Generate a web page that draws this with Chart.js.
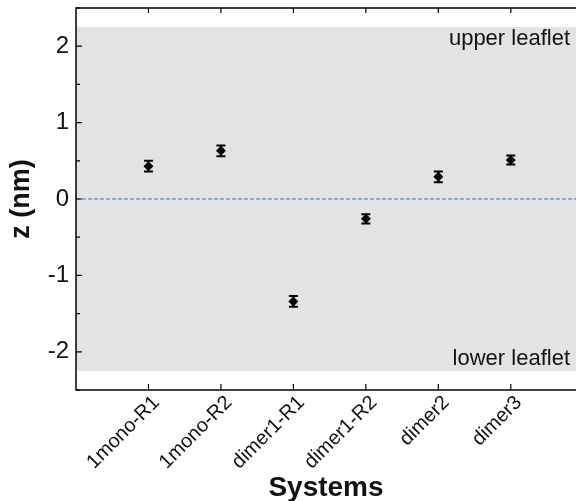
<!DOCTYPE html>
<html>
<head>
<meta charset="utf-8">
<script src="https://cdn.jsdelivr.net/npm/chart.js@4"></script>
<style>
html,body{margin:0;padding:0;background:#fff;}
#wrap{width:581px;height:501px;}
</style>
</head>
<body>
<div id="wrap"><canvas id="c" width="581" height="501"></canvas></div>
<script>
const systems=['1mono-R1','1mono-R2','dimer1-R1','dimer1-R2','dimer2','dimer3'];
const zMean=[0.43,0.63,-1.34,-0.26,0.29,0.51];
const zErr=[0.07,0.07,0.07,0.06,0.07,0.06];
const band=[-2.25,2.25];
const bandLabels=['upper leaflet','lower leaflet'];
const yTicks=[-2,-1,0,1,2];

const FONT='"Liberation Sans", Arial, Helvetica, sans-serif';

const decor={
 id:'decor',
 beforeDatasetsDraw(ch){
  const {ctx,chartArea:a,scales:{x,y}}=ch;
  ctx.save();
  // leaflet band
  let t=y.getPixelForValue(band[1]),b=y.getPixelForValue(band[0]);
  ctx.fillStyle='#e3e3e3';
  ctx.fillRect(a.left,t,a.right-a.left,b-t);
  // zero line
  let z=y.getPixelForValue(0);
  ctx.strokeStyle='#3f72cc';ctx.lineWidth=1;ctx.setLineDash([4,2]);
  ctx.beginPath();ctx.moveTo(a.left,z);ctx.lineTo(a.right,z);ctx.stroke();
  ctx.setLineDash([]);
  // error bars
  ctx.strokeStyle='#000';ctx.lineWidth=2;
  for(let i=0;i<zMean.length;i++){
   let px=x.getPixelForValue(i+1);
   let hi=y.getPixelForValue(zMean[i]+zErr[i]),lo=y.getPixelForValue(zMean[i]-zErr[i]);
   ctx.beginPath();
   ctx.moveTo(px,hi);ctx.lineTo(px,lo);
   ctx.moveTo(px-4.5,hi);ctx.lineTo(px+4.5,hi);
   ctx.moveTo(px-4.5,lo);ctx.lineTo(px+4.5,lo);
   ctx.stroke();
  }
  ctx.restore();
 },
 afterDraw(ch){
  const {ctx,chartArea:a,scales:{x,y}}=ch;
  ctx.save();
  ctx.strokeStyle='#000';ctx.lineWidth=1.5;
  ctx.beginPath();
  ctx.moveTo(a.right,a.top);ctx.lineTo(a.left,a.top);ctx.lineTo(a.left,a.bottom);ctx.lineTo(a.right,a.bottom);
  ctx.stroke();
  ctx.lineWidth=1.2;
  ctx.beginPath();
  for(let v=-2.5;v<=2.5;v+=0.5){
   let py=y.getPixelForValue(v);
   let len=Number.isInteger(v)?6:4;
   ctx.moveTo(a.left,py);ctx.lineTo(a.left+len,py);
  }
  for(let i=0;i<systems.length;i++){
   let px=x.getPixelForValue(i+1);
   ctx.moveTo(px,a.bottom);ctx.lineTo(px,a.bottom-6);
   ctx.moveTo(px,a.top);ctx.lineTo(px,a.top+5);
  }
  ctx.stroke();
  // leaflet labels
  ctx.fillStyle='#111';ctx.font='22px '+FONT;ctx.textAlign='right';
  ctx.textBaseline='top';
  ctx.fillText(bandLabels[0],a.right-6,y.getPixelForValue(band[1])+1);
  ctx.textBaseline='bottom';
  ctx.fillText(bandLabels[1],a.right-6,y.getPixelForValue(band[0])-1);
  ctx.restore();
 }
};

new Chart(document.getElementById('c'),{
 type:'scatter',
 data:{datasets:[{
  data:zMean.map((v,i)=>({x:i+1,y:v})),
  pointStyle:'rectRot',pointRadius:5,pointHoverRadius:5,
  backgroundColor:'#000',borderColor:'#000',borderWidth:0
 }]},
 options:{
  responsive:false,animation:false,
  layout:{padding:{top:8,right:0,left:0,bottom:0}},
  plugins:{legend:{display:false},tooltip:{enabled:false}},
  scales:{
   x:{
    type:'linear',min:0,max:6.9,
    grid:{display:false,drawTicks:false},border:{display:false},
    afterBuildTicks(s){s.ticks=systems.map((_,i)=>({value:i+1}));},
    afterFit(s){s.height=111;s.paddingLeft=0;s.paddingRight=0;},
    ticks:{minRotation:45,maxRotation:45,autoSkip:false,padding:1,labelOffset:8,color:'#111',
     font:{family:FONT,size:20},
     callback:(v)=>systems[v-1]||''},
    title:{display:true,text:'Systems',color:'#111',padding:{top:0,bottom:-4},
     font:{family:FONT,size:28,weight:'bold'}}
   },
   y:{
    min:-2.5,max:2.5,
    grid:{display:false,drawTicks:false},border:{display:false},
    afterBuildTicks(s){s.ticks=yTicks.map(v=>({value:v}));},
    afterFit(s){s.width=76;s.paddingTop=0;s.paddingBottom=0;},
    ticks:{padding:7,color:'#111',font:{family:FONT,size:24}},
    title:{display:true,text:'z (nm)',color:'#111',padding:{top:5,bottom:0},
     font:{family:FONT,size:27,weight:'bold'}}
   }
  }
 },
 plugins:[decor]
});
</script>
</body>
</html>
